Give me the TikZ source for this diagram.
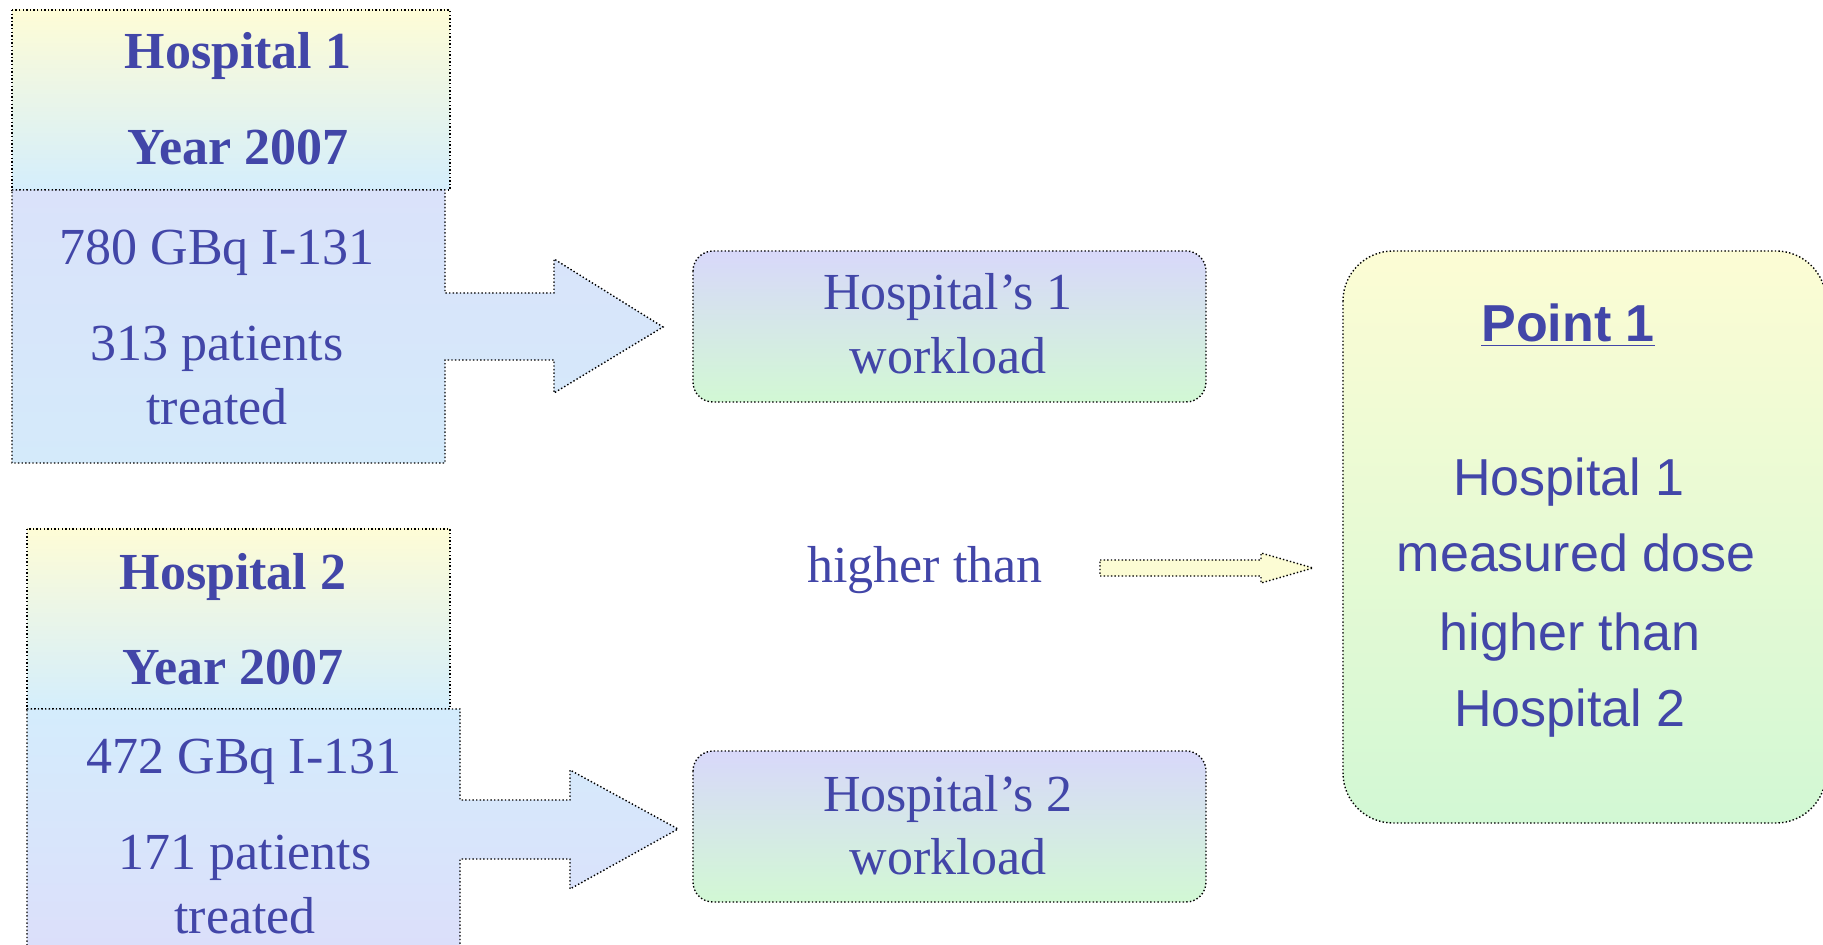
\documentclass[tikz,border=0pt]{standalone}
\usepackage{fontspec}
\setmainfont{Liberation Serif}
\newfontfamily\arialf{Liberation Sans}
\definecolor{txt}{RGB}{66,70,168}
\definecolor{hdrtop}{RGB}{254,252,214}
\definecolor{hdrbot}{RGB}{212,238,252}
\definecolor{bodyA}{RGB}{218,226,250}
\definecolor{bodyB}{RGB}{212,234,250}
\definecolor{bodyC}{RGB}{212,236,252}
\definecolor{bodyD}{RGB}{220,222,250}
\definecolor{lav}{RGB}{216,216,250}
\definecolor{mint}{RGB}{210,248,212}
\definecolor{pyellow}{RGB}{252,252,212}
\tikzset{
  dotline/.style={draw=black, line width=0.7pt, dash pattern=on 0.7pt off 1.1pt},
  serif/.style={text=txt, font=\fontsize{26}{32}\selectfont, inner sep=0pt, anchor=base},
  serifb/.style={text=txt, font=\fontsize{26}{32}\selectfont\bfseries, inner sep=0pt, anchor=base},
  sans/.style={text=txt, font=\arialf\fontsize{26}{32}\selectfont, inner sep=0pt, anchor=base},
  sansb/.style={text=txt, font=\arialf\fontsize{26}{32}\selectfont\bfseries, inner sep=0pt, anchor=base},
  hdrbox/.style={dotline, top color=hdrtop, bottom color=hdrbot},
  wbox/.style={dotline, top color=lav, bottom color=mint, rounded corners=10pt},
}
\begin{document}
\begin{tikzpicture}[x=0.5pt,y=-0.5pt]
\useasboundingbox (0,0) rectangle (1823,945);
\clip (0,0) rectangle (1823,945);
\fill[white] (0,0) rectangle (1823,945);

% Hospital 1
\path[hdrbox] (12,10) rectangle (450,190);
\path[dotline, top color=bodyA, bottom color=bodyB]
  (12,190) -- (445,190) -- (445,293) -- (554,293) -- (554,259) -- (663,327)
  -- (554,393) -- (554,360) -- (445,360) -- (445,463) -- (12,463) -- cycle;
\node[serifb] (h1) at (238,69) {Hospital 1};
\node[serifb] (y1) at (238,165) {Year 2007};
\node[serif] (g1) at (217,265) {780 GBq I-131};
\node[serif] (p1) at (217,361) {313 patients};
\node[serif] (t1) at (217,425) {treated};

% Hospital 2
\path[hdrbox] (27,529) rectangle (450,709);
\path[dotline, top color=bodyC, bottom color=bodyD]
  (27,709) -- (460,709) -- (460,800) -- (570,800) -- (570,770) -- (678,829)
  -- (570,889) -- (570,859) -- (460,859) -- (460,965) -- (27,965) -- cycle;
\node[serifb] (h2) at (233,589) {Hospital 2};
\node[serifb] (y2) at (233,684) {Year 2007};
\node[serif] (g2) at (244,773) {472 GBq I-131};
\node[serif] (p2) at (245,869) {171 patients};
\node[serif] (t2) at (245,933) {treated};

% workload boxes
\path[wbox] (693,251) rectangle (1206,402);
\node[serif] (w1a) at (948,310) {Hospital’s 1};
\node[serif] (w1b) at (948,374) {workload};
\path[wbox] (693,751) rectangle (1206,902);
\node[serif] (w2a) at (948,811) {Hospital’s 2};
\node[serif] (w2b) at (948,874) {workload};

% higher than + arrow
\node[serif] (ht) at (925,582) {higher than};
\path[dotline, fill=pyellow]
  (1100,560) -- (1261,560) -- (1261,553) -- (1313,568) -- (1261,583)
  -- (1261,576) -- (1100,576) -- cycle;

% Point 1 box
\path[dotline, top color=pyellow, bottom color=mint, rounded corners=25pt]
  (1343,251) rectangle (1826,823);
\node[sansb] (pt) at (1568,342) {\underline{Point 1}};
\node[sans] (l1) at (1569,496) {Hospital 1};
\node[sans] (l2) at (1576,572) {measured dose};
\node[sans] (l3) at (1570,650) {higher than};
\node[sans] (l4) at (1570,726) {Hospital 2};
\end{tikzpicture}
\end{document}
